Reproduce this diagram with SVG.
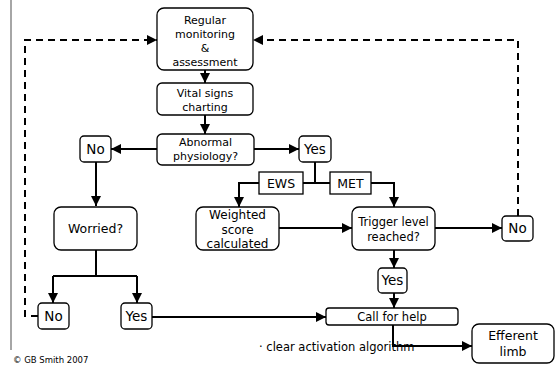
<svg xmlns="http://www.w3.org/2000/svg" width="555" height="368" viewBox="0 0 555 368">
<defs>
<marker id="ah" markerUnits="userSpaceOnUse" markerWidth="10" markerHeight="10" viewBox="0 0 10 10" refX="10" refY="5" orient="auto">
<path d="M0,0 L10,5 L0,10 z" fill="#000"/>
</marker>
</defs>
<style>
.box{fill:#fff;stroke:#000;stroke-width:1.3}
.t{font-family:"DejaVu Sans","Liberation Sans",sans-serif;fill:#000;text-anchor:middle}
.c{fill:none;stroke:#000;stroke-width:2}
.a{marker-end:url(#ah)}
.d{fill:none;stroke:#000;stroke-width:2;stroke-dasharray:7 5}
</style>
<rect width="555" height="368" fill="#fff"/>
<line x1="11" y1="0" x2="11" y2="350" stroke="#888" stroke-width="1.5"/>
<text x="13" y="363" font-family="DejaVu Sans, sans-serif" font-size="8.5" fill="#000">© GB Smith 2007</text>

<g id="connectors">
<path class="c a" d="M205,70 V83"/>
<path class="c a" d="M205,115 V134"/>
<path class="c a" d="M157,149 H111"/>
<path class="c a" d="M254,149 H299"/>
<path class="c" d="M315,162 V183 M303,183 H330"/>
<path class="c a" d="M259,183 H239 V207"/>
<path class="c a" d="M371,183 H394 V207"/>
<path class="c a" d="M279,228 H352"/>
<path class="c a" d="M435,228 H502"/>
<path class="d a" d="M518,216 V40 H253"/>
<path class="d a" d="M38,316 H25 V40 H157"/>
<path class="c a" d="M96,162 V206"/>
<path class="c" d="M96,250 V276 M53,276 H137"/>
<path class="c a" d="M53,276 V303"/>
<path class="c a" d="M137,276 V303"/>
<path class="c a" d="M152,317 H326"/>
<path class="c a" d="M394,250 V268"/>
<path class="c a" d="M394,293 V308"/>
<path class="c a" d="M393,325 V346 H472"/>
</g>

<g id="regular">
<rect class="box" x="157" y="8" width="96" height="62" rx="7"/>
<text class="t" font-size="11" x="205" y="24">Regular</text>
<text class="t" font-size="11" x="205" y="38">monitoring</text>
<text class="t" font-size="11" x="205" y="52">&amp;</text>
<text class="t" font-size="11" x="205" y="66">assessment</text>
</g>
<g id="vital">
<rect class="box" x="157" y="83" width="96" height="32" rx="5"/>
<text class="t" font-size="11" x="205" y="97">Vital signs</text>
<text class="t" font-size="11" x="205" y="111">charting</text>
</g>
<g id="abnormal">
<rect class="box" x="157" y="134" width="97" height="31" rx="5"/>
<text class="t" font-size="11" x="205.5" y="146">Abnormal</text>
<text class="t" font-size="11" x="205.5" y="160">physiology?</text>
</g>
<g id="no-top">
<rect class="box" x="80" y="136" width="31" height="26" rx="4"/>
<text class="t" font-size="13.5" x="95.5" y="154">No</text>
</g>
<g id="yes-top">
<rect class="box" x="299" y="136" width="32" height="26" rx="4"/>
<text class="t" font-size="13.5" x="315" y="154">Yes</text>
</g>
<g id="ews">
<rect class="box" x="259" y="172" width="44" height="22"/>
<text class="t" font-size="12.5" x="281" y="188">EWS</text>
</g>
<g id="met">
<rect class="box" x="330" y="172" width="41" height="22"/>
<text class="t" font-size="12.5" x="350.5" y="188">MET</text>
</g>
<g id="worried">
<rect class="box" x="54" y="207" width="83" height="43" rx="7"/>
<text class="t" font-size="12.5" x="95.5" y="233">Worried?</text>
</g>
<g id="weighted">
<rect class="box" x="196" y="207" width="83" height="43" rx="7"/>
<text class="t" font-size="12" x="237.5" y="219">Weighted</text>
<text class="t" font-size="12" x="237.5" y="234">score</text>
<text class="t" font-size="12" x="237.5" y="248">calculated</text>
</g>
<g id="trigger">
<rect class="box" x="352" y="207" width="83" height="43" rx="7"/>
<text class="t" font-size="11.5" x="393.5" y="226">Trigger level</text>
<text class="t" font-size="11.5" x="393.5" y="241">reached?</text>
</g>
<g id="no-right">
<rect class="box" x="502" y="216" width="31" height="25" rx="4"/>
<text class="t" font-size="13.5" x="517.5" y="233">No</text>
</g>
<g id="yes-mid">
<rect class="box" x="378" y="268" width="29" height="25" rx="4" stroke-width="2"/>
<text class="t" font-size="13.5" x="392.5" y="285">Yes</text>
</g>
<g id="no-bottom">
<rect class="box" x="38" y="303" width="31" height="26" rx="4"/>
<text class="t" font-size="13.5" x="53.5" y="321">No</text>
</g>
<g id="yes-bottom">
<rect class="box" x="121" y="303" width="31" height="26" rx="4"/>
<text class="t" font-size="13.5" x="136.5" y="321">Yes</text>
</g>
<g id="call">
<rect class="box" x="326" y="308" width="132" height="17" rx="3"/>
<text class="t" font-size="11.5" x="392" y="321">Call for help</text>
</g>
<g id="efferent">
<rect class="box" x="472" y="324" width="82" height="39" rx="7"/>
<text class="t" font-size="12.5" x="513" y="340">Efferent</text>
<text class="t" font-size="12.5" x="513" y="356">limb</text>
</g>
<text x="259" y="351" font-family="DejaVu Sans, sans-serif" font-size="11.5" fill="#000">· clear activation algorithm</text>
</svg>
